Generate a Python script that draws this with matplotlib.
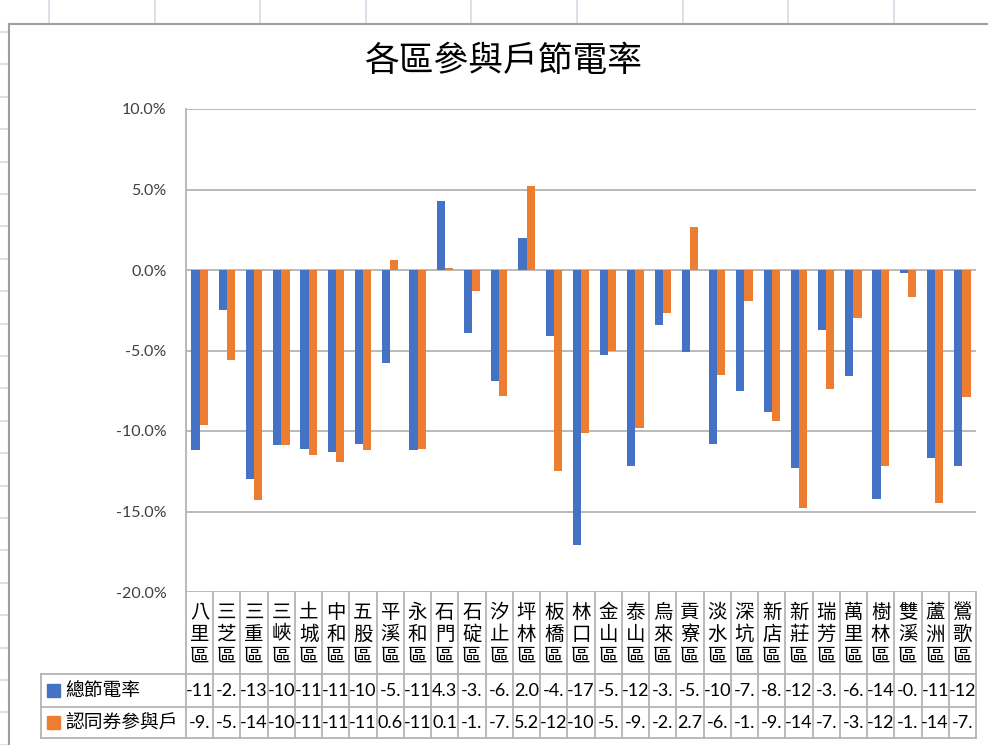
import matplotlib
matplotlib.use("Agg")
import matplotlib.pyplot as plt
import numpy as np
from matplotlib.patches import Rectangle
from matplotlib.lines import Line2D

# ---------------- data ----------------
districts = ["八里區", "三芝區", "三重區", "三峽區", "土城區", "中和區", "五股區", "平溪區",
             "永和區", "石門區", "石碇區", "汐止區", "坪林區", "板橋區", "林口區", "金山區",
             "泰山區", "烏來區", "貢寮區", "淡水區", "深坑區", "新店區", "新莊區", "瑞芳區",
             "萬里區", "樹林區", "雙溪區", "蘆洲區", "鶯歌區"]
total_saving = [-11.2, -2.5, -13.0, -10.9, -11.1, -11.3, -10.8, -5.8,
                -11.2, 4.3, -3.9, -6.9, 2.0, -4.1, -17.1, -5.3,
                -12.2, -3.4, -5.1, -10.8, -7.5, -8.8, -12.3, -3.7,
                -6.6, -14.2, -0.2, -11.7, -12.2]
voucher_saving = [-9.6, -5.6, -14.3, -10.9, -11.5, -11.9, -11.2, 0.6,
                  -11.1, 0.1, -1.3, -7.8, 5.2, -12.5, -10.1, -5.0,
                  -9.8, -2.7, 2.7, -6.5, -1.9, -9.4, -14.8, -7.4,
                  -3.0, -12.2, -1.7, -14.5, -7.9]
series_names = ["總節電率", "認同券參與戶"]
y_ticks = [10, 5, 0, -5, -10, -15, -20]
title = "各區參與戶節電率"

# ---------------- style ----------------
plt.rcParams['font.family'] = ['Lato', 'Noto Sans CJK TC', 'DejaVu Sans']
BLUE = "#4472C4"
ORANGE = "#ED7D31"
GRID = "#b4b4b4"
SHEET = "#d6dae6"
TXT = "#404040"

W, H = 988, 745
fig = plt.figure(figsize=(W / 100, H / 100), dpi=100)
fig.patch.set_facecolor("white")


def fx(px):
    return px / W


def fy(py):
    return 1 - py / H


# spreadsheet cell lines around the chart object
for k in range(10):
    x = 49 + k * 105.6
    fig.add_artist(Line2D([fx(x), fx(x)], [fy(0), fy(23)], transform=fig.transFigure,
                          color=SHEET, lw=1.2))
for k in range(23):
    y = 32 + k * 32.4
    fig.add_artist(Line2D([fx(0), fx(8)], [fy(y), fy(y)], transform=fig.transFigure,
                          color=SHEET, lw=1.2))
# chart object border
fig.add_artist(Line2D([fx(9), fx(988)], [fy(24), fy(24)], transform=fig.transFigure,
                      color="#a0a0a0", lw=1.5))
fig.add_artist(Line2D([fx(9), fx(9)], [fy(24), fy(745)], transform=fig.transFigure,
                      color="#a0a0a0", lw=1.5))

# title
fig.text(fx(503), fy(61), title, ha="center", va="center", fontsize=25,
         color="black", family=['Noto Sans CJK TC', 'DejaVu Sans'])

# ---------------- main plot ----------------
L, R, T, B = 186, 976, 109, 592
ax = fig.add_axes([fx(L), fy(B), (R - L) / W, (B - T) / H])
n = len(districts)
x = np.arange(n)
bw = 0.3
ax.bar(x - bw / 2, total_saving, bw, color=BLUE, zorder=3)
ax.bar(x + bw / 2, voucher_saving, bw, color=ORANGE, zorder=3)
ax.set_xlim(-0.5, n - 0.5)
ax.set_ylim(-20, 10)
ax.set_yticks(y_ticks)
ax.set_yticklabels([f"{v:.1f}%" for v in y_ticks])
ax.yaxis.grid(True, color=GRID, lw=1.3, zorder=0)
ax.set_axisbelow(True)
ax.set_xticks([])
ax.tick_params(axis="y", length=0, pad=14, labelsize=11.5, labelcolor=TXT)
for s in ["top", "right", "bottom"]:
    ax.spines[s].set_visible(False)
ax.spines["left"].set_color(GRID)
ax.spines["left"].set_linewidth(1.3)
ax.patch.set_alpha(0)

# ---------------- data table ----------------
TT, TB = 592, 738
R1, R2 = 674, 707
tax = fig.add_axes([fx(L), fy(TB), (R - L) / W, (TB - TT) / H])
tax.set_xlim(-0.5, n - 0.5)
tax.set_ylim(TB, TT)
tax.axis("off")
colw = (R - L) / n


def xd(px):
    return -0.5 + (px - L) / colw


lkw = dict(color=GRID, lw=1.3, clip_on=False)
for i in range(n + 1):
    tax.plot([i - 0.5, i - 0.5], [TT, TB], **lkw)
tax.plot([xd(41), n - 0.5], [R1, R1], **lkw)
tax.plot([xd(41), n - 0.5], [R2, R2], **lkw)
tax.plot([xd(41), n - 0.5], [TB, TB], **lkw)
tax.plot([xd(41), xd(41)], [R1, TB], **lkw)

for i, d in enumerate(districts):
    tax.text(i, (TT + R1) / 2 + 1, "\n".join(d), ha="center", va="center",
             fontsize=14, linespacing=1.05, color="black",
             family=['Noto Sans CJK TC', 'DejaVu Sans'])

for row_y, vals in [((R1 + R2) / 2, total_saving), ((R2 + TB) / 2, voucher_saving)]:
    for i, v in enumerate(vals):
        tax.text(i, row_y, f"{v:.1f}"[:3], ha="center", va="center",
                 fontsize=13, color="black")

for row_y, name, col in [((R1 + R2) / 2, series_names[0], BLUE),
                         ((R2 + TB) / 2, series_names[1], ORANGE)]:
    tax.add_patch(Rectangle((xd(47), row_y - 6.5), 13 / colw, 13, color=col, clip_on=False))
    tax.text(xd(65), row_y, name, ha="left", va="center", fontsize=13.5, color="black",
             family=['Noto Sans CJK TC', 'DejaVu Sans'], clip_on=False)

fig.savefig("out.png", dpi=100, facecolor="white")
